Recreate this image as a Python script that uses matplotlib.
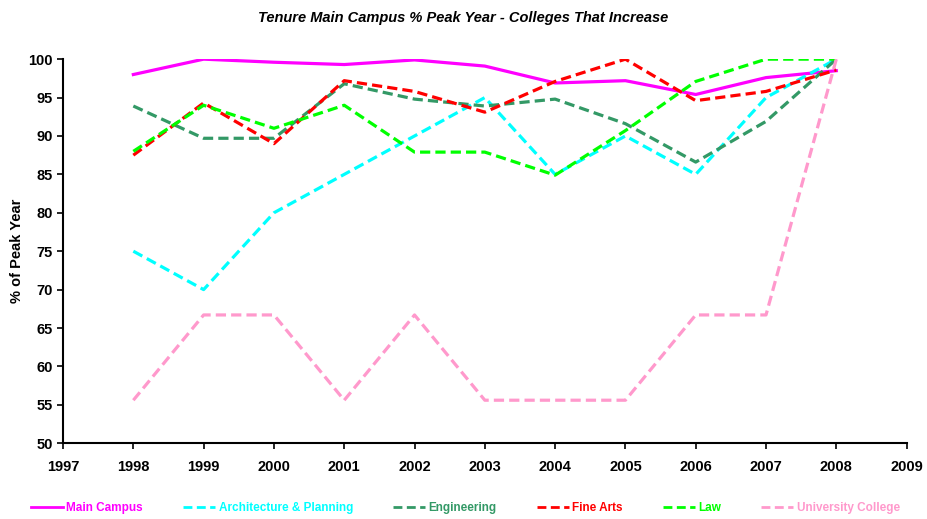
import matplotlib
matplotlib.use("Agg")
import matplotlib.pyplot as plt

plt.rcParams['font.family'] = ['Liberation Sans', 'DejaVu Sans']

years = [1998, 1999, 2000, 2001, 2002, 2003, 2004, 2005, 2006, 2007, 2008]

main_campus = [98.0, 100.0, 99.6, 99.3, 99.9, 99.1, 96.9, 97.2, 95.4, 97.6, 98.5]
arch_planning = [75.0, 70.0, 80.0, 85.0, 90.0, 95.0, 85.0, 90.0, 85.0, 95.0, 100.0]
engineering = [93.9, 89.7, 89.7, 96.8, 94.8, 93.9, 94.8, 91.6, 86.6, 91.9, 100.0]
fine_arts = [87.5, 94.3, 89.0, 97.2, 95.8, 93.1, 97.1, 100.0, 94.6, 95.8, 98.6]
law = [88.0, 94.0, 91.0, 94.0, 87.9, 87.9, 84.9, 90.7, 97.1, 100.0, 100.0]
univ_college = [55.6, 66.7, 66.7, 55.6, 66.7, 55.6, 55.6, 55.6, 66.7, 66.7, 100.0]

series = [
    ("Main Campus", main_campus, "#FF00FF", "-"),
    ("Architecture & Planning", arch_planning, "#00FFFF", "--"),
    ("Engineering", engineering, "#339966", "--"),
    ("Fine Arts", fine_arts, "#FF0000", "--"),
    ("Law", law, "#00FF00", "--"),
    ("University College", univ_college, "#FF99CC", "--"),
]

fig = plt.figure(figsize=(9.27, 5.19), dpi=100)
ax = fig.add_axes([0.068, 0.146, 0.910, 0.740])

for name, vals, col, ls in series:
    line, = ax.plot(years, vals, color=col, lw=2.3, ls=ls, label=name)
    if ls == "--":
        line.set_dashes((3.2, 1.6))

ax.set_xlim(1997, 2009)
ax.set_ylim(50, 100)
ax.set_xticks(range(1997, 2010))
ax.set_yticks(range(50, 101, 5))
ax.spines['top'].set_visible(False)
ax.spines['right'].set_visible(False)
ax.spines['left'].set_linewidth(1.5)
ax.spines['bottom'].set_linewidth(1.5)
ax.tick_params(axis='both', direction='out', length=4, width=1.2, labelsize=10.5)
ax.tick_params(axis='x', pad=8)
for lab in ax.get_xticklabels() + ax.get_yticklabels():
    lab.set_fontweight('bold')

ax.set_ylabel("% of Peak Year", fontsize=10.5, fontweight='bold', labelpad=3)
fig.text(0.5, 0.965, "Tenure Main Campus % Peak Year - Colleges That Increase",
         ha='center', va='center', fontsize=10.5, fontweight='bold', style='italic')

leg = fig.legend(loc='center', bbox_to_anchor=(0.502, 0.021), ncol=6, frameon=False,
                 handlelength=2.7, columnspacing=3.4, handletextpad=0.3,
                 prop={'weight': 'bold', 'size': 8.5})
for text, (_, _, col, _) in zip(leg.get_texts(), series):
    text.set_color(col)
for h in leg.get_lines():
    h.set_linewidth(2.0)

fig.savefig("out.png", dpi=100)
